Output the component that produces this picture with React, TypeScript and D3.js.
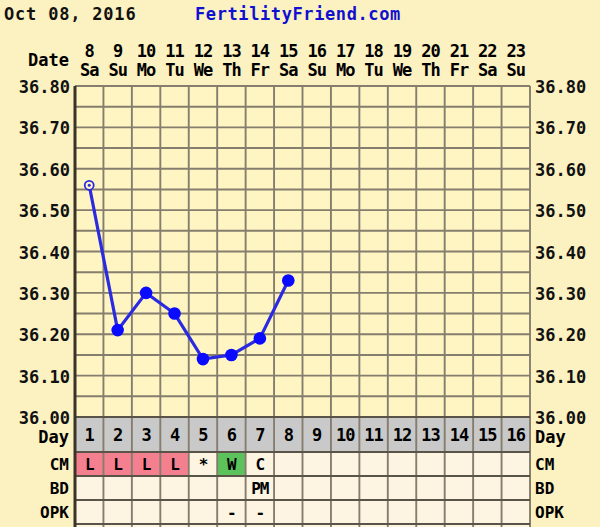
import { useEffect, useRef } from "react";
import * as d3 from "d3";

const title = "Oct 08, 2016";
const site = "FertilityFriend.com";
const cycleDays = [1, 2, 3, 4, 5, 6, 7, 8, 9, 10, 11, 12, 13, 14, 15, 16];
const dates = [8, 9, 10, 11, 12, 13, 14, 15, 16, 17, 18, 19, 20, 21, 22, 23];
const weekdays = ["Sa", "Su", "Mo", "Tu", "We", "Th", "Fr", "Sa", "Su", "Mo", "Tu", "We", "Th", "Fr", "Sa", "Su"];
const temps = [36.56, 36.21, 36.3, 36.25, 36.14, 36.15, 36.19, 36.33];
const tempTicks = [36.0, 36.1, 36.2, 36.3, 36.4, 36.5, 36.6, 36.7, 36.8];
const cmValues = ["L", "L", "L", "L", "*", "W", "C"];
const bdValues = ["", "", "", "", "", "", "PM"];
const opkValues = ["", "", "", "", "", "-", "-"];
const rowNames = ["CM", "BD", "OPK", ""];

const W = 600;
const H = 527;
const FONT = "'DejaVu Sans Mono', monospace";

export default function App() {
  const svgRef = useRef<SVGSVGElement>(null);

  useEffect(() => {
    const svg = d3.select(svgRef.current);
    svg.selectAll("*").remove();

    const left = 75;
    const right = 530;
    const top = 86;
    const bottom = 417;

    const x = d3.scaleBand<number>().domain(cycleDays).range([left, right]);
    const y = d3.scaleLinear().domain([36.0, 36.8]).range([bottom, top]);
    const bw = x.bandwidth();

    svg.append("rect").attr("width", W).attr("height", H).attr("fill", "#fcf1c1");

    // header
    svg.append("text").attr("x", 4).attr("y", 20).attr("font-size", 17).attr("letter-spacing", 0.8)
      .attr("font-weight", "bold").attr("fill", "#111").text(title);
    svg.append("text").attr("x", 195).attr("y", 20).attr("font-size", 17).attr("letter-spacing", 0.6)
      .attr("font-weight", "bold").attr("fill", "#1010d0").text(site);

    svg.append("text").attr("x", 69).attr("y", 66).attr("text-anchor", "end")
      .attr("font-size", 17).attr("font-weight", "bold").text("Date");

    const head = svg.append("g").attr("font-size", 17).attr("font-weight", "bold").attr("text-anchor", "middle");
    head.selectAll(".dt").data(cycleDays).join("text")
      .attr("x", (d) => x(d)! + bw / 2).attr("y", 57).attr("letter-spacing", -1)
      .text((d, i) => dates[i]);
    head.selectAll(".wd").data(cycleDays).join("text")
      .attr("x", (d) => x(d)! + bw / 2).attr("y", 76).attr("letter-spacing", -1)
      .text((d, i) => weekdays[i]);

    // plot area
    svg.append("rect").attr("x", left).attr("y", top).attr("width", right - left)
      .attr("height", bottom - top).attr("fill", "#fff5c3");

    const grid = svg.append("g").attr("stroke", "#857e6e").attr("stroke-width", 1.9);
    grid.selectAll("line.h").data(d3.range(0, 17)).join("line")
      .attr("x1", left).attr("x2", right)
      .attr("y1", (i) => y(36 + i * 0.05)).attr("y2", (i) => y(36 + i * 0.05));
    grid.selectAll("line.v").data(d3.range(0, 17)).join("line")
      .attr("y1", top).attr("y2", 548)
      .attr("x1", (i) => left + i * bw).attr("x2", (i) => left + i * bw);

    // y labels
    const yl = svg.append("g").attr("font-size", 17).attr("font-weight", "bold").attr("fill", "#111");
    yl.selectAll("text.l").data(tempTicks).join("text")
      .attr("x", 70).attr("y", (d) => y(d) + 7).attr("text-anchor", "end")
      .text((d) => d3.format(".2f")(d));
    yl.selectAll("text.r").data(tempTicks).join("text")
      .attr("x", 535).attr("y", (d) => y(d) + 7)
      .text((d) => d3.format(".2f")(d));

    // bottom table
    const rowTop = bottom;
    const dayH = 35;
    const rowH = 24;
    svg.append("rect").attr("x", left).attr("y", rowTop).attr("width", right - left)
      .attr("height", dayH).attr("fill", "#c9c9c9");

    const cellColor = (v: string) => (v === "L" ? "#f4808f" : v === "W" ? "#5cc35c" : "#fdf4e2");
    const rows = [cmValues, bdValues, opkValues, []];
    rows.forEach((vals, r) => {
      const ry = rowTop + dayH + r * rowH;
      svg.append("g").selectAll("rect").data(cycleDays).join("rect")
        .attr("x", (d) => x(d)!).attr("y", ry).attr("width", bw).attr("height", rowH)
        .attr("fill", (d, i) => cellColor(vals[i] || ""));
      svg.append("g").attr("font-size", 16).attr("font-weight", "bold").attr("text-anchor", "middle")
        .selectAll("text").data(cycleDays).join("text")
        .attr("x", (d) => x(d)! + bw / 2).attr("y", ry + 18).attr("letter-spacing", -1)
        .text((d, i) => vals[i] || "");
      svg.append("text").attr("x", 69).attr("y", ry + 18).attr("text-anchor", "end")
        .attr("font-size", 16).attr("font-weight", "bold").text(rowNames[r]);
      svg.append("text").attr("x", 535).attr("y", ry + 18)
        .attr("font-size", 16).attr("font-weight", "bold").text(rowNames[r]);
    });

    const tv = svg.append("g").attr("stroke", "#857e6e").attr("stroke-width", 1.9);
    tv.selectAll("line").data(d3.range(0, 17)).join("line")
      .attr("y1", rowTop).attr("y2", 548)
      .attr("x1", (i) => left + i * bw).attr("x2", (i) => left + i * bw);
    const th = svg.append("g").attr("stroke", "#5a5448").attr("stroke-width", 2);
    th.selectAll("line").data(d3.range(0, 5)).join("line")
      .attr("x1", left).attr("x2", right)
      .attr("y1", (i) => (i === 0 ? rowTop : rowTop + dayH + (i - 1) * rowH))
      .attr("y2", (i) => (i === 0 ? rowTop : rowTop + dayH + (i - 1) * rowH));

    svg.append("g").attr("font-size", 17).attr("font-weight", "bold").attr("text-anchor", "middle")
      .selectAll("text").data(cycleDays).join("text")
      .attr("x", (d) => x(d)! + bw / 2).attr("y", rowTop + 24).attr("letter-spacing", -1)
      .text((d) => d);
    svg.append("text").attr("x", 69).attr("y", rowTop + 26).attr("text-anchor", "end")
      .attr("font-size", 17).attr("font-weight", "bold").text("Day");
    svg.append("text").attr("x", 535).attr("y", rowTop + 26)
      .attr("font-size", 17).attr("font-weight", "bold").text("Day");

    // left axis
    svg.append("line").attr("x1", left).attr("x2", left).attr("y1", top).attr("y2", 548)
      .attr("stroke", "#3a3428").attr("stroke-width", 3);

    // temperature line
    const line = d3.line<number>().x((d, i) => x(cycleDays[i])! + bw / 2).y((d) => y(d));
    svg.append("path").datum(temps).attr("d", line).attr("fill", "none")
      .attr("stroke", "#2a2ae0").attr("stroke-width", 3.2);
    svg.append("g").selectAll("circle").data(temps.slice(1)).join("circle")
      .attr("cx", (d, i) => x(cycleDays[i + 1])! + bw / 2).attr("cy", (d) => y(d))
      .attr("r", 6.3).attr("fill", "#0a0aff");
    svg.append("circle").attr("cx", x(cycleDays[0])! + bw / 2).attr("cy", y(temps[0]))
      .attr("r", 4.5).attr("fill", "#fff5c3").attr("stroke", "#2a2ae0").attr("stroke-width", 1.8);
    svg.append("circle").attr("cx", x(cycleDays[0])! + bw / 2).attr("cy", y(temps[0]))
      .attr("r", 1.5).attr("fill", "#2a2ae0");
  }, []);

  return (
    <svg
      ref={svgRef}
      width={W}
      height={H}
      fontFamily={FONT}
      style={{ position: "fixed", left: 0, top: 0, display: "block" }}
    />
  );
}
